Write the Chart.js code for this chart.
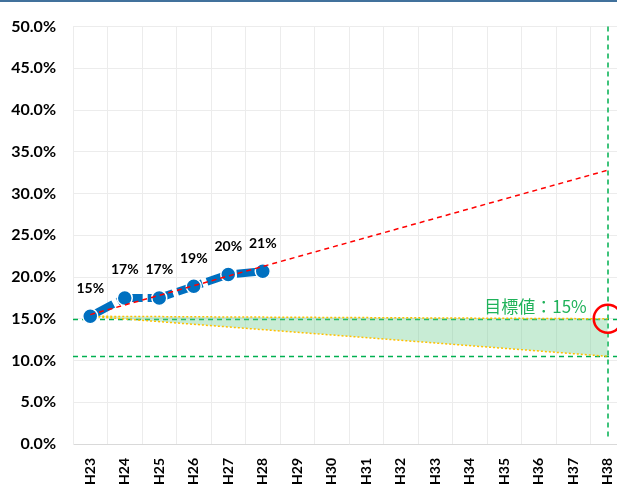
<!DOCTYPE html>
<html>
<head>
<meta charset="utf-8">
<script src="https://cdn.jsdelivr.net/npm/chart.js@4"></script>
<style>
  html, body { margin: 0; padding: 0; background: #fff; overflow: hidden; }
  #topbar { position: absolute; left: 0; top: 0; width: 617px; height: 2px; background: #41719c; z-index: 2; }
  #wrap { position: relative; width: 640px; height: 485px; }
</style>
</head>
<body>
<div id="topbar"></div>
<div id="wrap"><canvas id="chart"></canvas></div>
<script>
// ========== DATA ==========
const years = ['H23','H24','H25','H26','H27','H28','H29','H30','H31','H32','H33','H34','H35','H36','H37','H38'];
const actual = [15.3, 17.5, 17.5, 18.9, 20.3, 20.7];
const actualLabels = ['15%', '17%', '17%', '19%', '20%', '21%'];
const trendStart = 15.5, trendEnd = 32.8;
const bandTop = [15.3, 15.0];
const bandBottom = [15.3, 10.5];
const guideLines = [15, 10.5];
const targetValue = 15;
const targetText = '目標値：15%';

const BLUE = '#0070c0';
const GREEN = '#00b050';
const first = years[0], last = years[years.length - 1];

// ========== PLUGINS ==========
const guidePlugin = {
    id: 'guides',
    beforeDatasetsDraw(chart) {
        const { ctx, chartArea, scales } = chart;
        ctx.save();
        ctx.strokeStyle = GREEN;
        ctx.lineWidth = 1.5;
        ctx.setLineDash([5, 4]);
        guideLines.forEach(v => {
            const y = Math.round(scales.y.getPixelForValue(v)) + 0.5;
            ctx.beginPath();
            ctx.moveTo(chartArea.left, y);
            ctx.lineTo(chartArea.right, y);
            ctx.stroke();
        });
        const x = Math.round(scales.x.getPixelForValue(years.length - 1));
        ctx.beginPath();
        ctx.moveTo(x, chartArea.top);
        ctx.lineTo(x, chartArea.bottom - 6);
        ctx.stroke();
        ctx.restore();
    },
    afterDatasetsDraw(chart) {
        const { ctx, scales } = chart;
        ctx.save();
        // label di atas titik
        const meta = chart.getDatasetMeta(1);
        ctx.font = 'bold 14px Lato, "Noto Sans", sans-serif';
        ctx.fillStyle = '#000';
        ctx.textAlign = 'center';
        ctx.textBaseline = 'middle';
        meta.data.forEach((pt, i) => {
            ctx.fillText(actualLabels[i], pt.x, pt.y - 28);
        });
        // lingkaran target
        const x = scales.x.getPixelForValue(years.length - 1);
        const y = scales.y.getPixelForValue(targetValue);
        ctx.strokeStyle = '#ff0000';
        ctx.lineWidth = 2.5;
        ctx.beginPath();
        ctx.arc(x, y, 14, 0, Math.PI * 2);
        ctx.stroke();
        // teks target
        ctx.font = '17px "Noto Sans CJK JP", sans-serif';
        ctx.fillStyle = '#1fb25a';
        ctx.textAlign = 'right';
        ctx.fillText(targetText, x - 21, y - 12);
        ctx.restore();
    }
};

// ========== CHART ==========
new Chart(document.getElementById('chart'), {
    type: 'line',
    data: {
        labels: years,
        datasets: [
            {
                label: 'trend',
                data: [{ x: first, y: trendStart }, { x: last, y: trendEnd }],
                borderColor: '#ff0000',
                borderWidth: 1.5,
                borderDash: [5, 4],
                pointRadius: 0,
                fill: false
            },
            {
                label: 'actual',
                data: actual,
                borderColor: BLUE,
                borderWidth: 8,
                borderDash: [26, 5],
                pointRadius: 7.5,
                pointBackgroundColor: BLUE,
                pointBorderColor: '#fff',
                pointBorderWidth: 1.5,
                fill: false
            },
            {
                label: 'bandTop',
                data: [{ x: first, y: bandTop[0] }, { x: last, y: bandTop[1] }],
                borderColor: '#ffc000',
                borderWidth: 1.5,
                borderDash: [2, 2],
                pointRadius: 0,
                fill: false
            },
            {
                label: 'bandBottom',
                data: [{ x: first, y: bandBottom[0] }, { x: last, y: bandBottom[1] }],
                borderColor: '#ffc000',
                borderWidth: 1.5,
                borderDash: [2, 2],
                pointRadius: 0,
                backgroundColor: 'rgba(110, 205, 145, 0.38)',
                fill: '-1'
            }
        ]
    },
    options: {
        responsive: true,
        maintainAspectRatio: false,
        animation: false,
        layout: { padding: { top: 23, right: 15, left: 0, bottom: 0 } },
        plugins: {
            legend: { display: false },
            tooltip: { enabled: false }
        },
        scales: {
            x: {
                offset: true,
                grid: { offset: true, color: '#ececec', drawTicks: false },
                border: { color: '#d9d9d9' },
                ticks: {
                    autoSkip: false,
                    maxRotation: 90,
                    minRotation: 90,
                    padding: 14,
                    color: '#000',
                    font: { family: 'Lato, "Noto Sans", sans-serif', size: 14, weight: 'bold' }
                },
                afterFit(scale) { scale.height = 41; }
            },
            y: {
                min: 0,
                max: 50,
                grid: { color: '#ececec', drawTicks: false },
                border: { color: '#ececec' },
                ticks: {
                    stepSize: 5,
                    padding: 17,
                    color: '#000',
                    font: { family: 'Lato, "Noto Sans", sans-serif', size: 16, weight: 'bold' },
                    callback: v => v.toFixed(1) + '%'
                },
                afterFit(scale) { scale.width = 73; }
            }
        }
    },
    plugins: [guidePlugin]
});
</script>
</body>
</html>
